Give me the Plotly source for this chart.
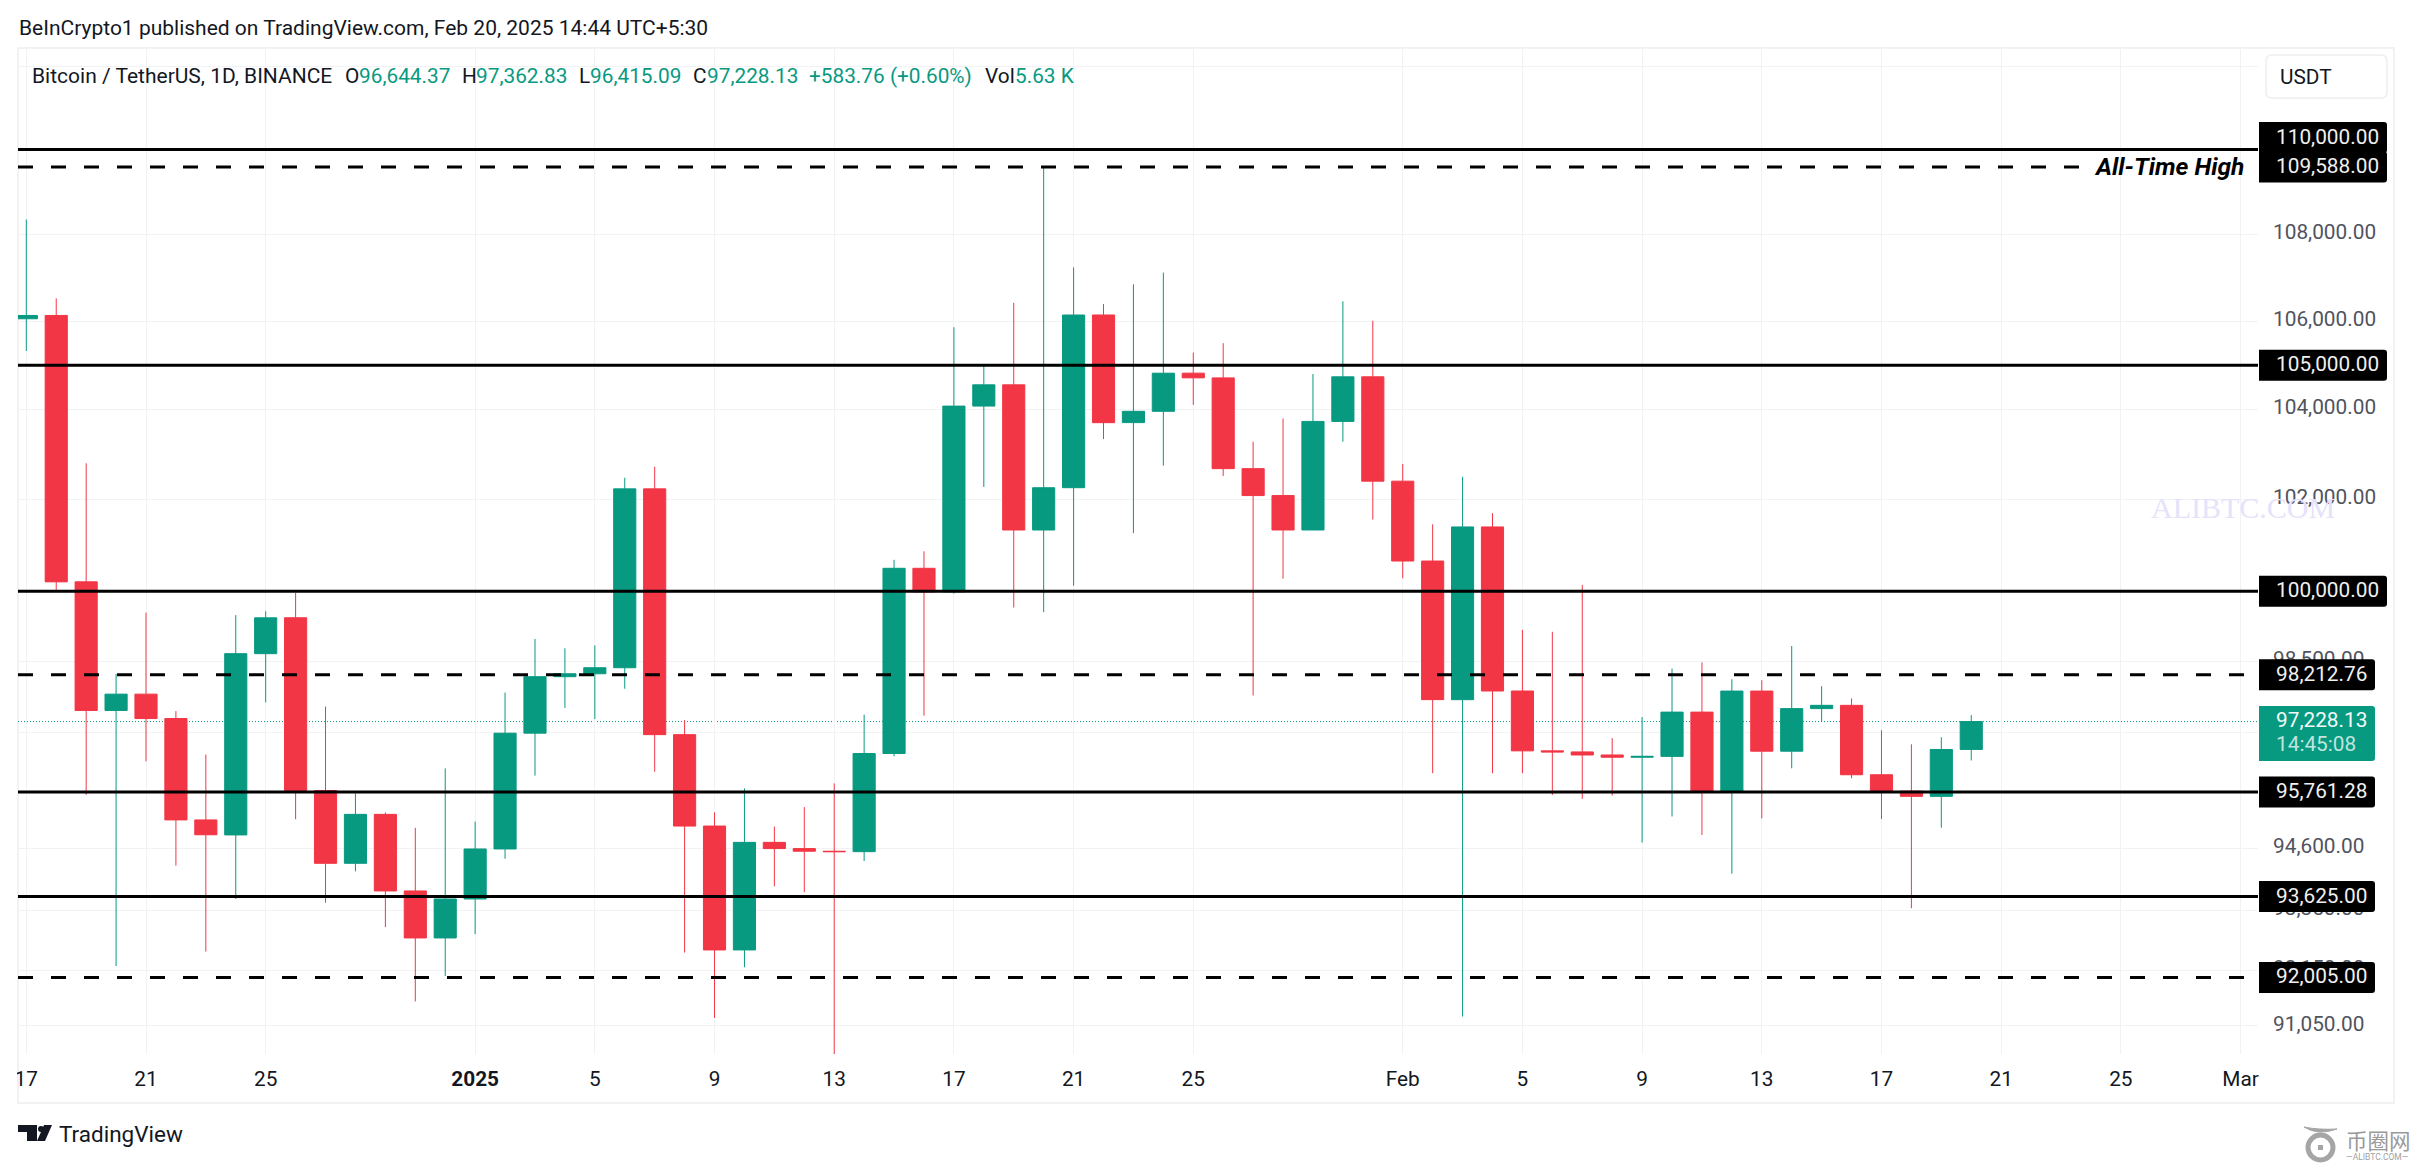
import math
import pandas as pd
import plotly.graph_objects as go

dates = pd.date_range("2024-12-17", "2025-02-20", freq="D").strftime("%Y-%m-%d").tolist()
opens = [106057,106133,100204,97461,97805,97292,95186,94878,98663,99430,95792,94299,95300,93738,92792,
         93576,94591,96985,98174,98236,98364,102235,96954,95060,92552,94726,94599,94545,94536,96560,100497,
         99987,104078,104556,101331,102261,106144,103707,103960,104820,104713,102682,102087,101332,103734,104737,
         102405,100655,97688,101398,97871,96615,96593,96529,96482,96500,97426,95776,97870,96608,97500,97569,
         96118,95780,95671,96644.37]
highs = [108353,106524,102800,98233,99540,97448,96538,99487,99569,99963,97544,95733,95340,95024,96250,
         95151,97839,98976,98778,98840,102480,102724,97258,95340,95836,95050,95450,95940,97371,100681,100866,
         105865,104988,106422,109588,107240,106394,106850,107120,105286,105500,103280,103800,104800,106457,106012,
         102783,101456,102500,101700,99170,99130,100137,96880,97323,98345,98478,98119,98100,98826,97972,97715,
         97046,96753,96899,97362.83]
lows = [105321,100000,95700,92232,96398,94250,92520,93575,97632,95199,93500,94135,93009,91530,92033,
        92870,94392,96100,97514,97280,97920,96181,92500,91203,92206,93831,93711,89256,94346,96500,97352,
        99950,102277,99650,99550,100119,103339,101262,102750,104106,102520,97777,100272,101328,103280,101560,
        100279,96150,91231,96150,96152,95700,95620,95688,94722,95256,94876,94088,95217,96252,97223,96046,
        95205,93388,95026,96415.09]
closes = [106133,100204,97461,97805,97291,95186,94881,98663,99429,95792,94299,95300,93738,92792,93576,
          94591,96984,98174,98236,98364,102235,96954,95060,92552,94726,94599,94545,94536,96560,100497,99987,
          104077,104556,101331,102260,106143,103706,103960,104819,104714,102682,102087,101332,103734,104737,102405,
          100655,97689,101398,97871,96615,96593,96529,96482,96500,97426,95776,97870,96608,97500,97569,96118,
          95780,95671,96644,97228.13]

x_tick_dates = ["2024-12-17","2024-12-21","2024-12-25","2025-01-01","2025-01-05","2025-01-09","2025-01-13",
                "2025-01-17","2025-01-21","2025-01-25","2025-02-01","2025-02-05","2025-02-09","2025-02-13",
                "2025-02-17","2025-02-21","2025-02-25","2025-03-01"]
x_tick_labels = ["17","21","25","<b>2025</b>","5","9","13","17","21","25","Feb","5","9","13","17","21","25","Mar"]
y_ticks = [112000,110000,108000,106000,104000,102000,100000,98500,97000,94600,93350,92150,91050]

solid_levels = [110000, 105000, 100000, 95761.28, 93625]
dashed_levels = [109588, 98212.76, 92005]
last_price = 97228.13

W, H = 2412, 1164
L, R, T, B = 18, 2258, 48, 1054
GREEN, RED = "#089981", "#F23645"
GRID = "#F1F2F4"
FONT = "Roboto"
FS = 20.8

def px(x): return (x - L) / (R - L)
def py(y): return (B - y) / (B - T)

def abs_shape(path, fill, line=None, width=0, layer="above"):
    return dict(type="path", path=path, xref="paper", yref="paper", xsizemode="pixel", ysizemode="pixel",
                xanchor=0, yanchor=0, fillcolor=fill, line=dict(color=line or fill, width=width), layer=layer)

def rrect(x0, y0, x1, y1, r=3, left_round=False):
    X0, X1 = x0 - L, x1 - L
    Y0, Y1 = B - y0, B - y1
    rl = r if left_round else 0
    return (f"M {X0+rl} {Y0} L {X1-r} {Y0} Q {X1} {Y0} {X1} {Y0-r} L {X1} {Y1+r} Q {X1} {Y1} {X1-r} {Y1} "
            f"L {X0+rl} {Y1} Q {X0} {Y1} {X0} {Y1+rl} L {X0} {Y0-rl} Q {X0} {Y0} {X0+rl} {Y0} Z")

y0log, y1log = math.log10(90497), math.log10(112439)

def price_y(value):
    return B - (B - T) * (math.log10(value) - y0log) / (y1log - y0log)

shapes = []
annotations = []

def txt(x, y, text, color="#131722", size=FS, anchor="left", family=FONT):
    annotations.append(dict(xref="paper", yref="paper", x=px(x), y=py(y), text=text, showarrow=False,
                            xanchor=anchor, yanchor="middle", align="left", borderpad=0,
                            font=dict(family=family, size=size, color=color)))

shapes.append(dict(type="rect", xref="paper", yref="paper", x0=px(18), x1=px(2394), y0=py(1103), y1=py(48),
                   line=dict(color="#F2F2F2", width=2), fillcolor="rgba(0,0,0,0)", layer="below"))
shapes.append(dict(type="line", xref="paper", yref="y", x0=0, x1=1, y0=last_price, y1=last_price,
                   line=dict(color=GREEN, width=1, dash="1px,2px"), layer="below"))

shapes.append(dict(type="rect", xref="paper", yref="paper", x0=px(0), x1=px(17), y0=py(1100), y1=py(1056),
                   fillcolor="white", line=dict(width=0), layer="above"))

for v in solid_levels:
    shapes.append(dict(type="line", xref="paper", yref="y", x0=0, x1=1, y0=v, y1=v,
                       line=dict(color="black", width=3), layer="above"))
for v in dashed_levels:
    x_end = 2079 if v == 109588 else 2245
    shapes.append(dict(type="line", xref="paper", yref="y", x0=0, x1=px(x_end), y0=v, y1=v,
                       line=dict(color="black", width=3, dash="15px,18px"), layer="above"))

shapes.append(abs_shape(rrect(2266, 55, 2387, 98, r=6, left_round=True), "white", "#EEEEEE", 1.5))
txt(2279, 77, "USDT")

tag_levels = [(110000, "110,000.00", 128, 137.5), (109588, "109,588.00", 128, None),
              (105000, "105,000.00", 128, None), (100000, "100,000.00", 128, None),
              (98212.76, "98,212.76", 116, None), (95761.28, "95,761.28", 116, None),
              (93625, "93,625.00", 116, None), (92005, "92,005.00", 116, None)]
for value, label, w, forced in tag_levels:
    cy = forced if forced else price_y(value)
    shapes.append(abs_shape(rrect(2259, cy - 15.5, 2259 + w, cy + 15.5), "black"))
    txt(2275, cy - 1, label, color="#F0F0F0")

shapes.append(abs_shape(rrect(2259, 706, 2375, 761), GREEN))
txt(2275, 720, "97,228.13", color="#F2FBF9")
txt(2275, 744, "14:45:08", color="#BFE5DE")

txt(18, 28, "BeInCrypto1 published on TradingView.com, Feb 20, 2025 14:44 UTC+5:30", size=21)
txt(31, 76, "Bitcoin / TetherUS, 1D, BINANCE", size=21)
for x, t, c in [(344, "O", "#131722"), (358, "96,644.37", GREEN), (461, "H", "#131722"), (475, "97,362.83", GREEN),
                (578, "L", "#131722"), (589, "96,415.09", GREEN), (692, "C", "#131722"), (706, "97,228.13", GREEN),
                (808, "+583.76 (+0.60%)", GREEN), (984, "Vol", "#131722"), (1014, "5.63 K", GREEN)]:
    txt(x, 76, t, color=c)

txt(2093, 166.5, "<b><i>All-Time High</i></b>", color="black", size=24.5)

txt(2150, 507, "ALIBTC.COM", color="#E4E3FA", size=30, family="Liberation Serif")
txt(58, 1134, "TradingView", color="#131722", size=22.5)
shapes.append(abs_shape(
    f"M {18-L} {B-1125} L {37-L} {B-1125} L {37-L} {B-1141} L {27-L} {B-1141} L {27-L} {B-1132} L {18-L} {B-1132} Z",
    "#131722"))
shapes.append(abs_shape(
    f"M {44-L} {B-1125} L {52-L} {B-1125} L {45-L} {B-1141} L {37-L} {B-1141} Z", "#131722"))
shapes.append(dict(type="circle", xref="paper", yref="paper", x0=px(38), x1=px(44), y0=py(1132), y1=py(1126),
                   fillcolor="#131722", line=dict(width=0), layer="above"))
txt(2345, 1139, "币圈网", color="#9A9A9A", size=21.5, family="Noto Sans CJK SC")
txt(2345, 1157, "—ALIBTC.COM—", color="#A0A0A0", size=8.5)
shapes.append(dict(type="circle", xref="paper", yref="paper", x0=px(2308), x1=px(2333), y0=py(1160), y1=py(1135),
                   fillcolor="rgba(0,0,0,0)", line=dict(color="#A5A5A5", width=5), layer="above"))
shapes.append(abs_shape(f"M {2304-L} {B-1127} Q {2318-L} {B-1136} {2337-L} {B-1129} Q {2318-L} {B-1130} {2304-L} {B-1127} Z",
                        "#A5A5A5", "#A5A5A5", 1))
shapes.append(dict(type="rect", xref="paper", yref="paper", x0=px(2318), x1=px(2323), y0=py(1150), y1=py(1145),
                   fillcolor="#A5A5A5", line=dict(width=0), layer="above"))

fig = go.Figure(go.Candlestick(
    x=dates, open=opens, high=highs, low=lows, close=closes,
    increasing=dict(line=dict(color=GREEN, width=1), fillcolor=GREEN),
    decreasing=dict(line=dict(color=RED, width=1), fillcolor=RED),
    whiskerwidth=0, showlegend=False,
))

fig.update_layout(
    width=W, height=H, paper_bgcolor="white", plot_bgcolor="white",
    margin=dict(l=L, r=W - R, t=T, b=H - B, autoexpand=False),
    boxgap=0.26, boxgroupgap=0, showlegend=False,
    shapes=shapes, annotations=annotations,
    xaxis=dict(type="date", range=["2024-12-16 17:20", "2025-03-01 14:00"], rangeslider=dict(visible=False),
               tickmode="array", tickvals=x_tick_dates, ticktext=x_tick_labels,
               tickfont=dict(family=FONT, size=FS, color="#131722"), showgrid=True, gridcolor=GRID, gridwidth=1,
               showline=False, zeroline=False, ticks="", ticklabelstandoff=10),
    yaxis=dict(type="log", range=[y0log, y1log], side="right", tickmode="array", tickvals=y_ticks,
               ticktext=[f"{v:,.2f}" for v in y_ticks],
               tickfont=dict(family=FONT, size=FS, color="#50535E"), showgrid=True, gridcolor=GRID, gridwidth=1,
               showline=False, zeroline=False, ticks="", ticklabelstandoff=14),
)

fig.write_html("out.html", config=dict(displayModeBar=False),
               post_script="document.body.style.margin='0';document.documentElement.style.overflow='hidden';"
                           "setTimeout(function(){document.querySelectorAll('.ytick').forEach(function(g){g.setAttribute('transform','translate(0,-2.5)');});},30);")
